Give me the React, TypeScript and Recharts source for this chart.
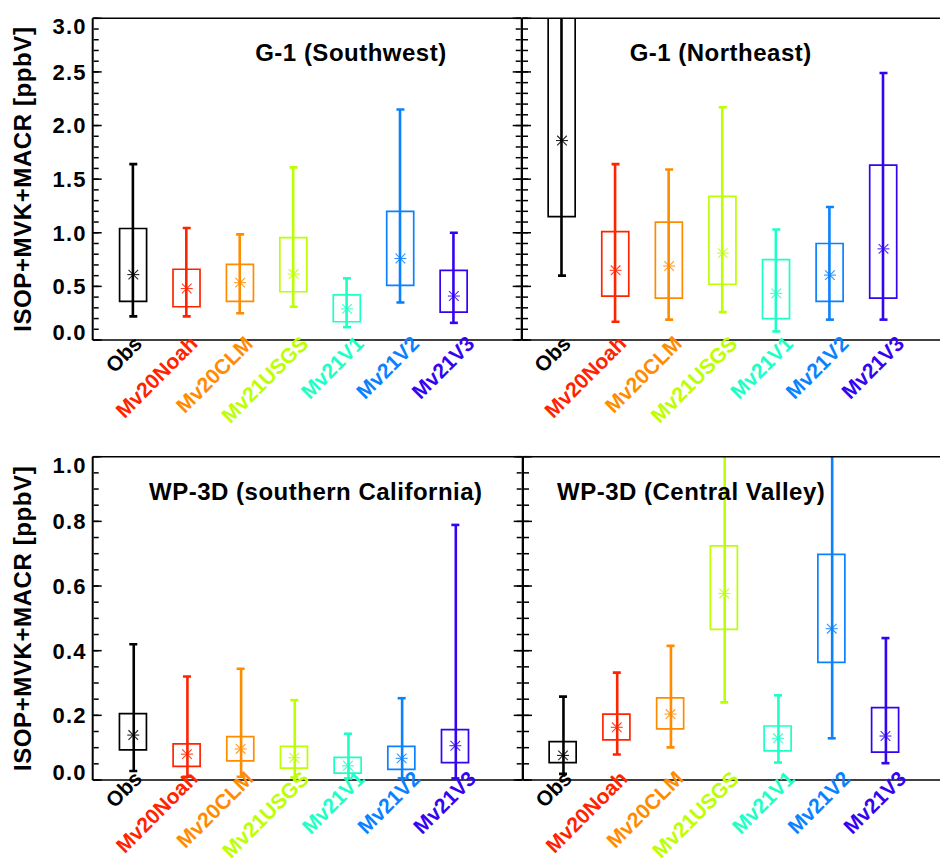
import React from 'react';
import { ComposedChart, Bar, Cell, Scatter, XAxis, YAxis } from 'recharts';

const categories = ['Obs', 'Mv20Noah', 'Mv20CLM', 'Mv21USGS', 'Mv21V1', 'Mv21V2', 'Mv21V3'];
const colors = ['#000000', '#ff2400', '#ff8c00', '#bcff00', '#1effc6', '#0a82ff', '#3404f0'];

// G-1 (Southwest)
const swMin = [0.22, 0.22, 0.25, 0.31, 0.12, 0.35, 0.16];
const swQ1 = [0.36, 0.31, 0.36, 0.45, 0.17, 0.51, 0.26];
const swMean = [0.61, 0.48, 0.535, 0.615, 0.29, 0.76, 0.41];
const swQ3 = [1.04, 0.66, 0.705, 0.955, 0.42, 1.2, 0.65];
const swMax = [1.64, 1.045, 0.985, 1.61, 0.575, 2.15, 1.0];

// G-1 (Northeast)
const neMin = [0.6, 0.17, 0.19, 0.26, 0.08, 0.19, 0.19];
const neQ1 = [1.15, 0.41, 0.39, 0.52, 0.2, 0.36, 0.39];
const neMean = [1.86, 0.65, 0.69, 0.81, 0.435, 0.605, 0.85];
const neQ3 = [3.2, 1.01, 1.1, 1.34, 0.75, 0.9, 1.63];
const neMax = [3.4, 1.64, 1.59, 2.17, 1.03, 1.24, 2.49];

// WP-3D (southern California)
const scMin = [0.028, 0.01, 0.01, 0.008, 0.005, 0.005, 0.005];
const scQ1 = [0.093, 0.042, 0.059, 0.037, 0.021, 0.033, 0.054];
const scMean = [0.139, 0.08, 0.096, 0.069, 0.044, 0.067, 0.106];
const scQ3 = [0.205, 0.112, 0.134, 0.104, 0.07, 0.104, 0.156];
const scMax = [0.42, 0.32, 0.344, 0.247, 0.143, 0.253, 0.789];

// WP-3D (Central Valley)
const cvMin = [0.019, 0.079, 0.101, 0.24, 0.054, 0.129, 0.052];
const cvQ1 = [0.054, 0.124, 0.158, 0.466, 0.09, 0.364, 0.086];
const cvMean = [0.076, 0.163, 0.204, 0.577, 0.129, 0.468, 0.136];
const cvQ3 = [0.119, 0.204, 0.254, 0.724, 0.167, 0.698, 0.224];
const cvMax = [0.258, 0.332, 0.415, 1.1, 0.262, 1.1, 0.439];

const xTicks = [1, 2, 3, 4, 5, 6, 7];
const g1Major = [0, 0.5, 1, 1.5, 2, 2.5, 3];
const g1Minor = [0, 0.1, 0.2, 0.3, 0.4, 0.5, 0.6, 0.7, 0.8, 0.9, 1, 1.1, 1.2, 1.3, 1.4, 1.5, 1.6, 1.7, 1.8, 1.9, 2, 2.1, 2.2, 2.3, 2.4, 2.5, 2.6, 2.7, 2.8, 2.9, 3];
const wpMajor = [0, 0.2, 0.4, 0.6, 0.8, 1];
const wpMinor = [0, 0.05, 0.1, 0.15, 0.2, 0.25, 0.3, 0.35, 0.4, 0.45, 0.5, 0.55, 0.6, 0.65, 0.7, 0.75, 0.8, 0.85, 0.9, 0.95, 1];

const FONT = "'Liberation Sans', Arial, Helvetica, sans-serif";
const Y_TITLE = 'ISOP+MVK+MACR [ppbV]';

const NoTick = () => <g />;

const YTick = (props: any) => {
  const { x, y, payload, lo, hi } = props;
  const v = payload.value;
  const shift = v === hi ? 8 : v === lo ? -8 : 0;
  return (
    <text x={x} y={y + shift} dy="0.36em" textAnchor="end" fontSize={22} fontWeight="bold" fontFamily={FONT} letterSpacing={1.2} fill="#000">
      {v.toFixed(1)}
    </text>
  );
};

const XTick = (props: any) => {
  const { x, y, payload, drop } = props;
  const i = payload.value - 1;
  const ax = x + 10 + 2 * i;
  const ay = y + drop;
  return (
    <text x={ax} y={ay} transform={`rotate(-45 ${ax} ${ay})`} textAnchor="end" fontSize={21} fontWeight="bold" fontFamily={FONT} fill={colors[i]}>
      {categories[i]}
    </text>
  );
};

const PanelTitle = (props: any) => {
  const vb = props.viewBox || {};
  const x = (vb.x || 0) + (vb.width || 0) * props.frac;
  const y = (vb.y || 0) + (vb.height || 0) + 43;
  return (
    <text x={x} y={y} textAnchor="middle" fontSize={24} fontWeight="bold" fontFamily={FONT} letterSpacing={0.5} fill="#000">
      {props.text}
    </text>
  );
};

const YTitle = (props: any) => {
  const vb = props.viewBox || {};
  const x = (vb.x || 0) + 31;
  const y = (vb.y || 0) + (vb.height || 0) / 2;
  return (
    <text x={x} y={y} transform={`rotate(-90 ${x} ${y})`} textAnchor="middle" fontSize={24} fontWeight="bold" fontFamily={FONT} letterSpacing={0.6} fill="#000">
      {Y_TITLE}
    </text>
  );
};

const Asterisk = (props: any) => {
  const { cx, cy, payload } = props;
  const color = colors[payload.c];
  const r = 6;
  const d = 4.8;
  return (
    <g stroke={color} strokeWidth={1.1} opacity={0.85}>
      <line x1={cx - r} y1={cy} x2={cx + r} y2={cy} />
      <line x1={cx - d} y1={cy - d} x2={cx + d} y2={cy + d} />
      <line x1={cx - d} y1={cy + d} x2={cx + d} y2={cy - d} />
    </g>
  );
};

const Cap = (props: any) => {
  const { cx, cy, payload } = props;
  return <line x1={cx - 4} y1={cy} x2={cx + 4} y2={cy} stroke={colors[payload.c]} strokeWidth={2.6} />;
};

interface PanelProps {
  left: number;
  top: number;
  width: number;
  height: number;
  margin: { top: number; right: number; bottom: number; left: number };
  plotHeight: number;
  labelDrop: number;
  xDomain: [number, number];
  yMax: number;
  majors: number[];
  minors: number[];
  mins: number[];
  q1s: number[];
  means: number[];
  q3s: number[];
  maxs: number[];
  title: string;
  titleFrac: number;
  isLeft: boolean;
}

const Panel: React.FC<PanelProps> = (p) => {
  const rows = categories.map((name, i) => ({
    name,
    c: i,
    x: i + 1,
    box: [p.q1s[i], p.q3s[i]],
    whisker: [p.mins[i], p.maxs[i]],
    lo: p.mins[i],
    hi: p.maxs[i],
    mean: p.means[i],
  }));
  // caps above the frame are not drawn
  const upperCaps = rows.filter((r) => r.hi <= p.yMax);
  const yDomain: [number, number] = [0, p.yMax];
  const seriesAxis = p.isLeft ? 'lab' : 'maj';
  const tickLine = { stroke: '#000', strokeWidth: 1.5 };
  const frame = { stroke: '#000', strokeWidth: 1.5 };

  return (
    <div style={{ position: 'absolute', left: p.left, top: p.top }}>
      <ComposedChart width={p.width} height={p.height} data={rows} margin={p.margin}>
        <XAxis
          xAxisId="bottom"
          dataKey="x"
          type="number"
          domain={p.xDomain}
          ticks={xTicks}
          interval={0}
          allowDataOverflow
          height={p.height - p.margin.top - p.margin.bottom - 1 - p.plotHeight}
          tickLine={false}
          tickSize={0}
          tickMargin={0}
          axisLine={frame}
          tick={<XTick drop={p.labelDrop} />}
        />
        <XAxis
          xAxisId="top"
          orientation="top"
          dataKey="x"
          type="number"
          domain={p.xDomain}
          ticks={xTicks}
          allowDataOverflow
          height={1}
          tick={<NoTick />}
          tickLine={false}
          axisLine={frame}
          label={<PanelTitle text={p.title} frac={p.titleFrac} />}
        />
        {p.isLeft && (
          <YAxis
            yAxisId="lab"
            orientation="left"
            width={92.7}
            domain={yDomain}
            ticks={p.majors}
            interval={0}
            allowDataOverflow
            tickLine={false}
            tickSize={0}
            tickMargin={6}
            axisLine={{ stroke: '#000', strokeWidth: 2 }}
            tick={<YTick lo={0} hi={p.yMax} />}
            label={<YTitle />}
          />
        )}
        <YAxis yAxisId="maj" orientation="left" mirror width={1} domain={yDomain} ticks={p.majors} interval={0} allowDataOverflow tick={<NoTick />} tickSize={9} tickLine={tickLine} axisLine={p.isLeft ? false : { stroke: '#000', strokeWidth: 2 }} />
        <YAxis yAxisId="min" orientation="left" mirror width={1} domain={yDomain} ticks={p.minors} interval={0} allowDataOverflow tick={<NoTick />} tickSize={5} tickLine={tickLine} axisLine={false} />
        {p.isLeft && (
          <YAxis yAxisId="rmaj" orientation="right" mirror width={1} domain={yDomain} ticks={p.majors} interval={0} allowDataOverflow tick={<NoTick />} tickSize={9} tickLine={tickLine} axisLine={{ stroke: '#000', strokeWidth: 2 }} />
        )}
        {p.isLeft && (
          <YAxis yAxisId="rmin" orientation="right" mirror width={1} domain={yDomain} ticks={p.minors} interval={0} allowDataOverflow tick={<NoTick />} tickSize={5} tickLine={tickLine} axisLine={false} />
        )}
        <Bar xAxisId="bottom" yAxisId={seriesAxis} dataKey="box" barSize={27} fill="none" isAnimationActive={false}>
          {rows.map((r, i) => (
            <Cell key={r.name} fill="none" stroke={colors[i]} strokeWidth={1.7} />
          ))}
        </Bar>
        <Bar xAxisId="top" yAxisId={seriesAxis} dataKey="whisker" barSize={2.6} isAnimationActive={false}>
          {rows.map((r, i) => (
            <Cell key={r.name} fill={colors[i]} stroke="none" />
          ))}
        </Bar>
        <Scatter xAxisId="bottom" yAxisId={seriesAxis} data={rows} dataKey="lo" shape={<Cap />} isAnimationActive={false} />
        <Scatter xAxisId="bottom" yAxisId={seriesAxis} data={upperCaps} dataKey="hi" shape={<Cap />} isAnimationActive={false} />
        <Scatter xAxisId="bottom" yAxisId={seriesAxis} data={rows} dataKey="mean" shape={<Asterisk />} isAnimationActive={false} />
      </ComposedChart>
    </div>
  );
};

const App: React.FC = () => (
  <div style={{ position: 'absolute', left: 0, top: 0, width: 940, height: 859, background: '#fff', overflow: 'hidden' }}>
    <Panel
      left={0} top={0} width={530} height={440}
      margin={{ top: 17.3, right: 8.3, bottom: 0, left: 0 }} plotHeight={321.7} labelDrop={5}
      xDomain={[0.24, 8.27]} yMax={3} majors={g1Major} minors={g1Minor}
      mins={swMin} q1s={swQ1} means={swMean} q3s={swQ3} maxs={swMax}
      title="G-1 (Southwest)" titleFrac={0.602} isLeft
    />
    <Panel
      left={511.7} top={0} width={428.3} height={440}
      margin={{ top: 17.3, right: 0, bottom: 0, left: 10 }} plotHeight={321.7} labelDrop={5}
      xDomain={[0.254, 8.06]} yMax={3} majors={g1Major} minors={g1Minor}
      mins={neMin} q1s={neQ1} means={neMean} q3s={neQ3} maxs={neMax}
      title="G-1 (Northeast)" titleFrac={0.475} isLeft={false}
    />
    <Panel
      left={0} top={438} width={530} height={421}
      margin={{ top: 17.7, right: 7.3, bottom: 0, left: 0 }} plotHeight={323.3} labelDrop={0}
      xDomain={[0.244, 8.255]} yMax={1} majors={wpMajor} minors={wpMinor}
      mins={scMin} q1s={scQ1} means={scMean} q3s={scQ3} maxs={scMax}
      title="WP-3D (southern California)" titleFrac={0.519} isLeft
    />
    <Panel
      left={511.7} top={438} width={428.3} height={421}
      margin={{ top: 17.7, right: 0, bottom: 0, left: 11 }} plotHeight={323.3} labelDrop={0}
      xDomain={[0.255, 8.02]} yMax={1} majors={wpMajor} minors={wpMinor}
      mins={cvMin} q1s={cvQ1} means={cvMean} q3s={cvQ3} maxs={cvMax}
      title="WP-3D (Central Valley)" titleFrac={0.403} isLeft={false}
    />
  </div>
);

export default App;
